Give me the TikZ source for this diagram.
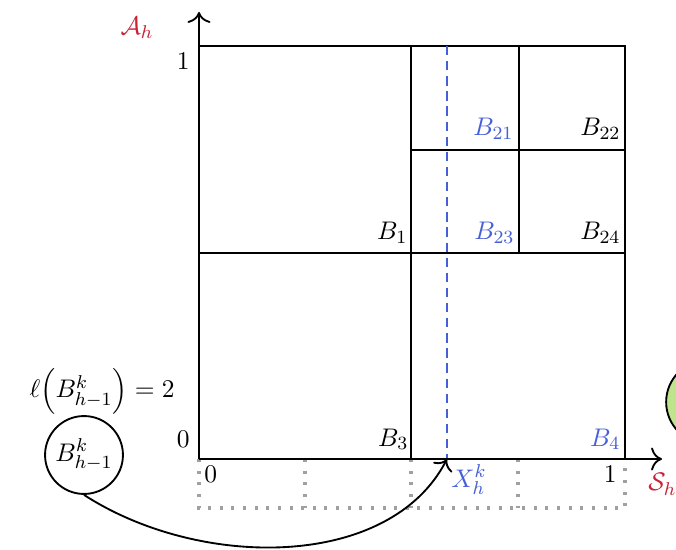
\documentclass[tikz,border=0pt]{standalone}
\usepackage{amsmath}
\usetikzlibrary{arrows.meta}
\definecolor{lblred}{RGB}{200,35,55}
\definecolor{lblblue}{RGB}{70,95,215}
\definecolor{dotgray}{RGB}{160,160,160}
\definecolor{lgreen}{RGB}{190,228,140}
\begin{document}
\begin{tikzpicture}[x=0.43pt,y=-0.43pt,
  every node/.style={font=\fontsize{11}{13}\selectfont},
  gridline/.style={line width=0.8pt,black},
  axisline/.style={line width=0.8pt,black,-{To[scale=1.4]}},
  dotline/.style={dotgray,line width=1.3pt,dash pattern=on 1.3pt off 3.7pt},
  xdash/.style={lblblue,line width=0.7pt,dash pattern=on 4pt off 2.5pt},
  lbl/.style={inner sep=0pt},
  bluelbl/.style={inner sep=0pt,text=lblblue},
  redlbl/.style={inner sep=0pt,text=lblred},
  ballnode/.style={draw,circle,line width=0.8pt,minimum size=33.5pt,inner sep=0pt},
  arc/.style={line width=0.8pt,-{To[scale=1.3]}}]
\useasboundingbox (0,0) rectangle (676,550);
% coordinates
\coordinate (O) at (199,459);
\coordinate (TL) at (199,46);
\coordinate (TR) at (625,46);
\coordinate (BR) at (625,459);
\coordinate (yend) at (199,12);
\coordinate (xend) at (662,459);
\coordinate (xk) at (447,459);
% dotted boxes under the axis
\draw[dotline] (199,459) -- (199,508) -- (625,508) -- (625,459);
\draw[dotline] (305,459) -- (305,508);
\draw[dotline] (411,459) -- (411,508);
\draw[dotline] (518,459) -- (518,508);
% partition
\draw[gridline] (TL) -- (TR) -- (BR);
\draw[gridline] (411,46) -- (411,459);
\draw[gridline] (199,253) -- (625,253);
\draw[gridline] (411,150) -- (625,150);
\draw[gridline] (519,46) -- (519,253);
% dashed line at X
\draw[xdash] (447,46) -- (xk);
% axes
\draw[axisline] (O) -- (yend);
\draw[axisline] (O) -- (xend);
% labels
\node[redlbl] (Ah) at (137,28) {$\mathcal{A}_h$};
\node[redlbl,anchor=base west] (Sh) at (648,491) {$\mathcal{S}_h$};
\node[lbl,anchor=base east] (y1) at (190,70) {$1$};
\node[lbl,anchor=base east] (y0) at (190,448) {$0$};
\node[lbl,anchor=base west] (x0) at (204,483) {$0$};
\node[lbl,anchor=base east] (x1) at (617,482) {$1$};
\node[lbl,anchor=base east] (B1) at (408,240) {$B_1$};
\node[lbl,anchor=base east] (B3) at (409,446) {$B_3$};
\node[bluelbl,anchor=base east] (B4) at (621,446) {$B_4$};
\node[bluelbl,anchor=base east] (B21) at (514,136) {$B_{21}$};
\node[lbl,anchor=base east] (B22) at (621,136) {$B_{22}$};
\node[bluelbl,anchor=base east] (B23) at (515,240) {$B_{23}$};
\node[lbl,anchor=base east] (B24) at (621,240) {$B_{24}$};
\node[bluelbl,anchor=base west] (Xk) at (451,487) {$X_h^k$};
\node[lbl,anchor=base east] (ell) at (175,398) {$\ell\Bigl(B^k_{h-1}\Bigr) = 2$};
% node ball
\node[ballnode] (ball) at (84,455) {$B^k_{h-1}$};
\node[draw,circle,line width=0.8pt,fill=lgreen,minimum size=36pt] (green) at (708,402) {};
% connector
\draw[arc] (ball.south) .. controls (200,570) and (390,570) .. (xk);
\end{tikzpicture}
\end{document}
